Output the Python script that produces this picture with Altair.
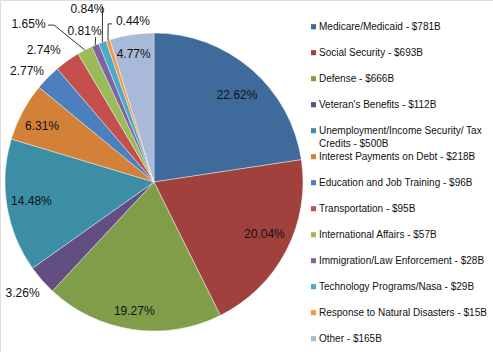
import altair as alt
import pandas as pd

# ---- data ----
categories = [
    "Medicare/Medicaid", "Social Security", "Defense", "Veteran's Benefits",
    "Unemployment/Income Security/ Tax Credits", "Interest Payments on Debt",
    "Education and Job Training", "Transportation", "International Affairs",
    "Immigration/Law Enforcement", "Technology Programs/Nasa",
    "Response to Natural Disasters", "Other",
]
values = [781, 693, 666, 112, 500, 218, 96, 95, 57, 28, 29, 15, 165]
pct_labels = ["22.62%", "20.04%", "19.27%", "3.26%", "14.48%", "6.31%", "2.77%",
              "2.74%", "1.65%", "0.81%", "0.84%", "0.44%", "4.77%"]

# ---- styles / layout ----
colors = ["#3F6A9C", "#A0413E", "#809D4A", "#634E84", "#3C8EA6", "#D38039",
          "#4B7FBE", "#C3504D", "#9BBB59", "#8064A2", "#4BACC6", "#F79646", "#A9B9D9"]
CX, CY, R = 154, 182, 149
FONT = "Liberation Sans"

# label angle nudge (deg) and radius (px) per slice
label_nudge = [3.1, -2.3, 0.4, 1.0, 0.7, -1.7, -3.2, -4.3, -10.7, -1.5, -0.8, 10.5, -0.4]
label_radius = [120, 122, 131, 172, 124, 125, 169, 172, 202, 166, 185, 162, 130]
# leader line end offset from label centre (px), plus horizontal elbow length
leader_dx = [None] * 8 + [25.5, 11.0, 15.0, -24.8, None]
leader_dy = [None] * 8 + [1.5, 6.0, -3.3, 2.5, None]
elbow_dx = [None] * 8 + [-6.0, None, None, 4.0, None]

def legend_text(name, v):
    t = f"{name} - ${v}B"
    return t.replace("Security/ Tax Credits", "Security/ Tax\nCredits")

df = pd.DataFrame({
    "cat": categories,
    "value": values,
    "pct": pct_labels,
    "order": list(range(len(categories))),
})
df["legend"] = [legend_text(c, v) for c, v in zip(categories, values)]
df["nudge"] = label_nudge
df["lr"] = label_radius
df["ldx"] = leader_dx
df["ldy"] = leader_dy
df["edx"] = elbow_dx

color = alt.Color("cat:N", scale=alt.Scale(domain=categories, range=colors), legend=None)

base = alt.Chart(df)

pie = base.mark_arc(outerRadius=R, stroke="#ffffff", strokeWidth=0.4).encode(
    theta=alt.Theta("value:Q", stack=True),
    color=color,
    order=alt.Order("order:Q"),
    x=alt.value(CX),
    y=alt.value(CY),
)

geo = base.transform_window(
    cum="sum(value)", sort=[alt.SortField("order")], frame=[None, 0]
).transform_joinaggregate(total="sum(value)").transform_calculate(
    am="2*PI*(datum.cum - datum.value/2)/datum.total",
).transform_calculate(
    al="datum.am + datum.nudge*PI/180",
    ex=f"{CX} + {R}*sin(datum.am)",
    ey=f"{CY} - {R}*cos(datum.am)",
).transform_calculate(
    lx=f"{CX} + datum.lr*sin(datum.al)",
    ly=f"{CY} - datum.lr*cos(datum.al)",
)

labels = geo.mark_text(font=FONT, fontSize=12, color="#111111").encode(
    x=alt.X("lx:Q", scale=None),
    y=alt.Y("ly:Q", scale=None),
    text="pct:N",
)

lead = geo.transform_filter("isValid(datum.ldx)").transform_calculate(
    x2="datum.lx + datum.ldx", y2="datum.ly + datum.ldy"
)
leaders = lead.mark_rule(color="#000000", strokeWidth=0.8).encode(
    x=alt.X("ex:Q", scale=None),
    y=alt.Y("ey:Q", scale=None),
    x2="x2:Q",
    y2="y2:Q",
)
elbows = lead.transform_filter("isValid(datum.edx)").transform_calculate(
    x3="datum.x2 + datum.edx"
).mark_rule(color="#000000", strokeWidth=0.8).encode(
    x=alt.X("x2:Q", scale=None),
    y=alt.Y("y2:Q", scale=None),
    x2="x3:Q",
    y2="y2:Q",
)

leg = base.transform_calculate(gy="26.7 + 26*datum.order")
leg_sym = leg.mark_square(size=26, opacity=1).encode(
    x=alt.value(313.5),
    y=alt.Y("gy:Q", scale=None),
    color=color,
)
leg_txt = leg.mark_text(font=FONT, fontSize=10, align="left", baseline="alphabetic",
                        dy=3.5, lineBreak="\n", lineHeight=13, color="#111111").encode(
    x=alt.value(319),
    y=alt.Y("gy:Q", scale=None),
    text="legend:N",
)

chart = alt.layer(pie, leaders, elbows, labels, leg_sym, leg_txt).properties(
    width=493, height=352, padding=0, autosize=alt.AutoSizeParams(type="none"),
).configure_view(stroke="#000000", strokeWidth=2).configure(background="#ffffff")

chart.save("out.html", embed_options={"renderer": "svg", "actions": False})
